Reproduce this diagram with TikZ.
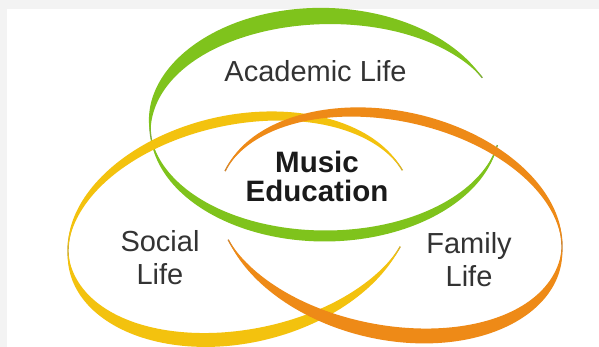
\documentclass[tikz,border=0pt]{standalone}
\usepackage{fontspec}
\setmainfont{Liberation Sans}
\definecolor{bandgray}{HTML}{F3F3F3}
\definecolor{ygreen}{HTML}{7FC31C}
\definecolor{ygold}{HTML}{F3C20E}
\definecolor{yorange}{HTML}{EE8A17}
\definecolor{txt}{HTML}{333333}
\definecolor{txtb}{HTML}{1A1A1A}
\newcommand\brushseg[6]{%
  \fill[#1] plot[domain=#4:#5, samples=90]
    ({(#2+0.5*(#6)*sin((\x-(#4))/((#5)-(#4))*180))*cos(\x)},
     {(#3+0.5*(#6)*sin((\x-(#4))/((#5)-(#4))*180))*sin(\x)})
   -- plot[domain=#5:#4, samples=90]
    ({(#2-0.5*(#6)*sin((\x-(#4))/((#5)-(#4))*180))*cos(\x)},
     {(#3-0.5*(#6)*sin((\x-(#4))/((#5)-(#4))*180))*sin(\x)}) -- cycle;}
\newcommand\ring[9]{%
  \draw[#9, line width=1.4pt] plot[domain=#4:#6, samples=150] ({#2*cos(\x)},{#3*sin(\x)});
  \brushseg{#1}{#2}{#3}{#4}{#5}{#7}
  \brushseg{#1}{#2}{#3}{#5}{#6}{#8}}
\begin{document}
\begin{tikzpicture}[x=1pt,y=1pt,
  lbl/.style={font=\fontsize{29}{33}\selectfont, text=txt, align=center, inner sep=0pt},
  lblb/.style={font=\fontsize{29.5}{29}\selectfont\bfseries, text=txtb, align=center, inner sep=0pt}]
\useasboundingbox (0,0) rectangle (599,347);
\fill[white] (0,0) rectangle (599,347);
\fill[bandgray] (0,338) rectangle (599,347);
\fill[bandgray] (0,0) rectangle (7,347);
% green ring (Academic Life)
\begin{scope}[shift={(325,221)}]
  \ring{ygreen}{175}{110}{26}{185}{350}{17}{11}{ygreen!55!gray}
\end{scope}
% yellow ring (Social Life)
\begin{scope}[shift={(240,119)}, rotate=12.35]
  \ring{ygold}{174.5}{108.1}{11.5}{172}{331}{10}{14}{ygold!65!gray}
\end{scope}
% orange ring (Family Life)
\begin{scope}[shift={(390,123)}, rotate=-12.35]
  \ring{yorange}{174.5}{108.1}{-152.5}{8}{171.3}{15}{10}{yorange!65!gray}
\end{scope}
\node[lbl, anchor=base] (academic) at (315.5,265.5) {Academic Life};
\node[lblb, anchor=base] (music) at (317,145) {Music\\Education};
\node[lbl, anchor=base] (social) at (160,62) {Social\\Life};
\node[lbl, anchor=base] (family) at (469,60) {Family\\Life};
\end{tikzpicture}
\end{document}
